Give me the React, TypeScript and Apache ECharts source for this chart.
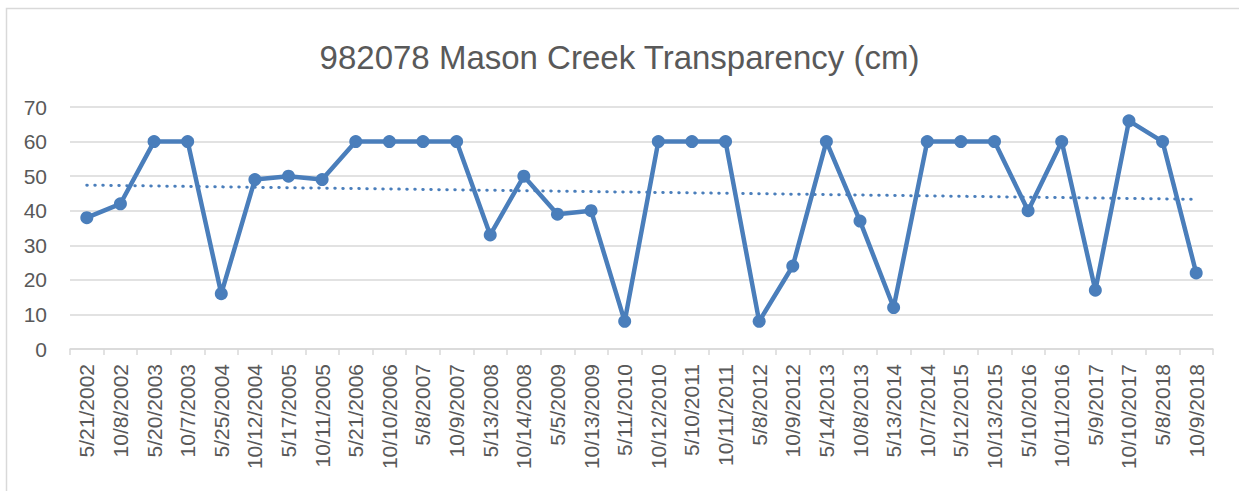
import React, { useEffect, useRef } from "react";
import * as echarts from "echarts";

const titleText = "982078 Mason Creek Transparency (cm)";
const categories = [
  "5/21/2002", "10/8/2002", "5/20/2003", "10/7/2003", "5/25/2004", "10/12/2004",
  "5/17/2005", "10/11/2005", "5/21/2006", "10/10/2006", "5/8/2007", "10/9/2007",
  "5/13/2008", "10/14/2008", "5/5/2009", "10/13/2009", "5/11/2010", "10/12/2010",
  "5/10/2011", "10/11/2011", "5/8/2012", "10/9/2012", "5/14/2013", "10/8/2013",
  "5/13/2014", "10/7/2014", "5/12/2015", "10/13/2015", "5/10/2016", "10/11/2016",
  "5/9/2017", "10/10/2017", "5/8/2018", "10/9/2018",
];
const transparency = [
  38, 42, 60, 60, 16, 49, 50, 49, 60, 60, 60, 60, 33, 50, 39, 40, 8, 60, 60, 60,
  8, 24, 60, 37, 12, 60, 60, 60, 40, 60, 17, 66, 60, 22,
];
const trendEnds = [47.4, 43.3];
const yTicks = { min: 0, max: 70, interval: 10 };

export default function App() {
  const ref = useRef<HTMLDivElement>(null);
  useEffect(() => {
    document.body.style.margin = "0";
    const chart = echarts.init(ref.current!, null, { renderer: "svg" });
    const font = "Liberation Sans";
    const trendData = categories.map((_, i) =>
      i === 0 ? trendEnds[0] : i === categories.length - 1 ? trendEnds[1] : null
    );
    chart.setOption({
      animation: false,
      backgroundColor: "#ffffff",
      textStyle: { fontFamily: font },
      title: {
        text: titleText,
        left: "center",
        top: 36,
        textStyle: { fontSize: 33, fontWeight: "normal", color: "#595959", fontFamily: font },
      },
      graphic: [
        {
          type: "rect",
          shape: { x: 6.5, y: 8.5, width: 1300, height: 600 },
          style: { fill: "none", stroke: "#d9d9d9", lineWidth: 1.5 },
          silent: true,
        },
      ],
      grid: { left: 70, right: 26, top: 107, bottom: 142, containLabel: false },
      xAxis: {
        type: "category",
        data: categories,
        boundaryGap: true,
        axisLine: { lineStyle: { color: "#d9d9d9", width: 1.5 } },
        axisTick: { show: true, length: 6, lineStyle: { color: "#d9d9d9", width: 1.5 } },
        axisLabel: {
          interval: 0,
          rotate: 90,
          fontSize: 21,
          color: "#595959",
          margin: 15,
          fontFamily: font,
        },
      },
      yAxis: {
        type: "value",
        min: yTicks.min,
        max: yTicks.max,
        interval: yTicks.interval,
        axisLine: { show: false },
        axisTick: { show: false },
        splitLine: { lineStyle: { color: "#d9d9d9", width: 1.5 } },
        axisLabel: { fontSize: 21, color: "#595959", margin: 23, fontFamily: font },
      },
      series: [
        {
          type: "line",
          data: transparency,
          symbol: "circle",
          symbolSize: 13,
          itemStyle: { color: "#4a7ebb" },
          lineStyle: { color: "#4a7ebb", width: 4.5 },
          z: 3,
        },
        {
          type: "line",
          data: trendData,
          connectNulls: true,
          symbol: "none",
          lineStyle: { color: "#4a7ebb", width: 3, type: [0.5, 7.5], cap: "round" },
          z: 2,
        },
      ],
    });
    return () => chart.dispose();
  }, []);
  return <div ref={ref} style={{ width: 1239, height: 491 }} />;
}
